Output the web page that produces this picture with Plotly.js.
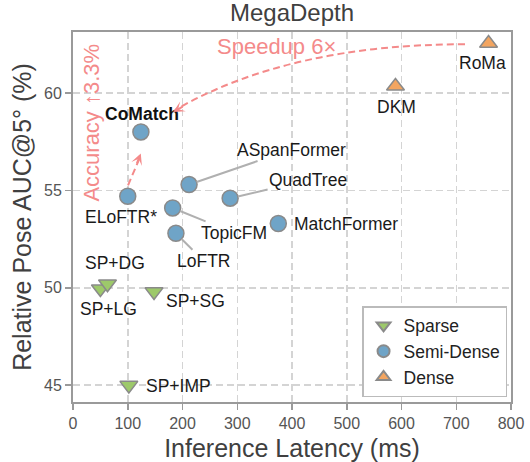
<!DOCTYPE html>
<html>
<head>
<meta charset="utf-8">
<script src="https://cdn.plot.ly/plotly-3.0.1.min.js"></script>
<style>html,body{margin:0;padding:0;background:#fff}#chart{width:530px;height:462px}</style>
</head>
<body>
<div id="chart"></div>
<script>
// ---- data ----
const sparseNames   = ['SP+SG', 'SP+LG', 'SP+DG', 'SP+IMP'];
const sparseLatency = [148, 50, 63, 102];
const sparseAUC     = [49.8, 49.95, 50.2, 45.0];

const semiNames   = ['LoFTR', 'MatchFormer', 'TopicFM', 'QuadTree', 'ASpanFormer', 'ELoFTR*', 'CoMatch'];
const semiLatency = [188, 375, 182, 287, 212, 100, 124];
const semiAUC     = [52.8, 53.3, 54.1, 54.6, 55.3, 54.7, 58.0];

const denseNames   = ['DKM', 'RoMa'];
const denseLatency = [589, 759];
const denseAUC     = [60.35, 62.55];

const xTicks = [0, 100, 200, 300, 400, 500, 600, 700, 800];
const yTicks = [45, 50, 55, 60];

// ---- styles ----
const FONT = 'Liberation Sans, Arial, sans-serif';
const EDGE = {color: '#8a8a8a', width: 1.5};
const PINK = '#F48A8A';
const DARK = '#404040';

const traces = [
  {name: 'Sparse', x: sparseLatency, y: sparseAUC, text: sparseNames, type: 'scatter', mode: 'markers',
   marker: {symbol: 'triangle-down', size: 15.5, color: '#9DC96A', line: EDGE}, hoverinfo: 'text'},
  {name: 'Semi-Dense', x: semiLatency, y: semiAUC, text: semiNames, type: 'scatter', mode: 'markers',
   marker: {symbol: 'circle', size: 16, color: '#6FA4C7', line: EDGE}, hoverinfo: 'text'},
  {name: 'Dense', x: denseLatency, y: denseAUC, text: denseNames, type: 'scatter', mode: 'markers',
   marker: {symbol: 'triangle-up', size: 15.5, color: '#F3A560', line: EDGE}, hoverinfo: 'text'}
];

// label placement (pixel offsets relative to each point)
const labelFont = {family: FONT, size: 17.5, color: '#1a1a1a'};
function pt(names, xs, ys, name) { const i = names.indexOf(name); return [xs[i], ys[i]]; }
function S(n) { return pt(sparseNames, sparseLatency, sparseAUC, n); }
function M(n) { return pt(semiNames, semiLatency, semiAUC, n); }
function D(n) { return pt(denseNames, denseLatency, denseAUC, n); }

const annotations = [];
function plain(p, text, xs, ys, anchor, extra) {
  annotations.push(Object.assign({x: p[0], y: p[1], xref: 'x', yref: 'y', text: text, showarrow: false,
    xshift: xs, yshift: ys, xanchor: anchor || 'center', yanchor: 'middle', font: labelFont}, extra || {}));
}
function leader(p, text, ax, ay) {
  annotations.push({x: p[0], y: p[1], xref: 'x', yref: 'y', text: text, showarrow: true, arrowhead: 0,
    arrowwidth: 2, arrowcolor: '#b0b0b0', ax: ax, ay: ay, standoff: 8, font: labelFont, borderpad: 1});
}

plain(M('CoMatch'), '<b>CoMatch</b>', 1, 18, 'center', {font: {family: FONT, size: 17.5, color: '#111'}});
plain(M('ELoFTR*'), 'ELoFTR*', -7, -21);
plain(M('MatchFormer'), 'MatchFormer', 14, 0, 'left');
leader(M('ASpanFormer'), 'ASpanFormer', 102, -35);
leader(M('QuadTree'), 'QuadTree', 78, -18);
leader(M('TopicFM'), 'TopicFM', 61, 25);
leader(M('LoFTR'), 'LoFTR', 28, 28);
plain(S('SP+DG'), 'SP+DG', 8, 21);
plain(S('SP+LG'), 'SP+LG', 8, -20);
plain(S('SP+SG'), 'SP+SG', 10, -9, 'left');
plain(S('SP+IMP'), 'SP+IMP', 15, -1, 'left');
plain(D('DKM'), 'DKM', 1, -21);
plain(D('RoMa'), 'RoMa', -6, -20);

// highlight arrows (geometry in data units)
const accFrom = [100.5, 55.26], accTo = [123.8, 56.9];
const spdFrom = [716, 62.5], spdCtrl = [395, 62.5], spdTo = [183, 59.02];

const shapes = [
  {type: 'line', xref: 'x', yref: 'y', x0: accFrom[0], y0: accFrom[1], x1: accTo[0] - 1.5, y1: accTo[1] - 0.2,
   line: {color: PINK, width: 2, dash: '7px,4px'}},
  {type: 'path', xref: 'x', yref: 'y',
   path: `M${spdFrom[0]},${spdFrom[1]} Q${spdCtrl[0]},${spdCtrl[1]} ${spdTo[0] + 3},${spdTo[1] + 0.1}`,
   line: {color: PINK, width: 2, dash: '7px,4px'}}
];
annotations.push({x: accTo[0], y: accTo[1], xref: 'x', yref: 'y', text: '', showarrow: true,
  arrowhead: 3, arrowsize: 0.95, arrowwidth: 2, arrowcolor: PINK, ax: -4.4, ay: 11.2});
annotations.push({x: spdTo[0], y: spdTo[1], xref: 'x', yref: 'y', text: '', showarrow: true,
  arrowhead: 3, arrowsize: 0.95, arrowwidth: 2, arrowcolor: PINK, ax: 11, ay: -6.4});
annotations.push({x: 372, y: 62.4, xref: 'x', yref: 'y', text: 'Speedup 6×', showarrow: false,
  font: {family: FONT, size: 22, color: PINK}});
annotations.push({x: 33.6, y: 58.5, xref: 'x', yref: 'y', text: 'Accuracy ↑3.3%', showarrow: false,
  textangle: -90, font: {family: FONT, size: 22, color: PINK}});

const axisCommon = {
  showline: true, linecolor: '#9a9a9a', linewidth: 2, mirror: true,
  ticks: 'outside', ticklen: 6, tickwidth: 1.5, tickcolor: '#9a9a9a',
  showgrid: true, gridcolor: '#d4d4d4', gridwidth: 1.5, griddash: '7px,4px',
  zeroline: false, tickfont: {family: FONT, size: 16, color: '#555'}
};

const layout = {
  width: 530, height: 462,
  margin: {l: 73, r: 19, t: 32, b: 60},
  paper_bgcolor: '#fff', plot_bgcolor: '#fff',
  font: {family: FONT, color: DARK},
  title: {text: 'MegaDepth', font: {family: FONT, size: 24, color: DARK},
          x: 0.5, xref: 'paper', y: 1, yref: 'container', yanchor: 'top', pad: {t: 4, b: 0}},
  xaxis: Object.assign({}, axisCommon, {range: [0, 800], tickvals: xTicks,
          title: {text: 'Inference Latency (ms)', font: {family: FONT, size: 25, color: DARK}, standoff: 8}}),
  yaxis: Object.assign({}, axisCommon, {range: [44.14, 63.13], tickvals: yTicks,
          title: {text: 'Relative Pose AUC@5° (%)', font: {family: FONT, size: 25, color: DARK}, standoff: 5}}),
  legend: {x: 0.991, y: 0.0135, xanchor: 'right', yanchor: 'bottom', bgcolor: '#fff',
           bordercolor: '#bbbbbb', borderwidth: 1.5, font: {family: FONT, size: 17.5, color: '#222'},
           tracegroupgap: 0, itemsizing: 'constant'},
  showlegend: true,
  annotations: annotations,
  shapes: shapes
};

Plotly.newPlot('chart', traces, layout, {displayModeBar: false, staticPlot: true});
</script>
</body>
</html>
